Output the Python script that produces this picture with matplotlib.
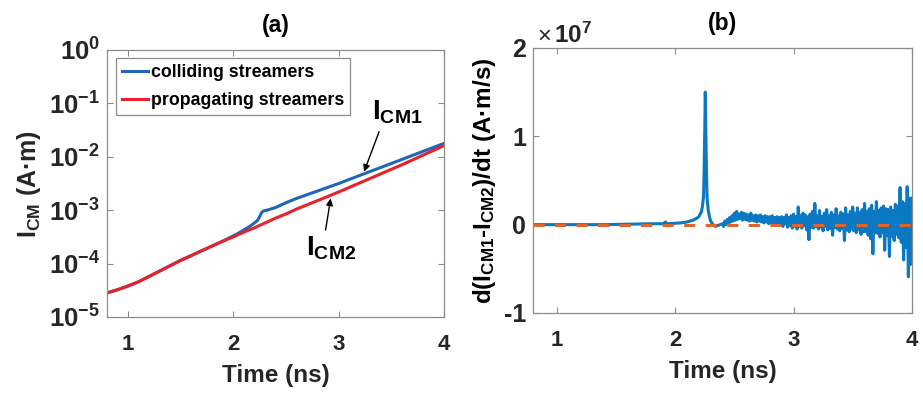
import numpy as np
import matplotlib
matplotlib.use("Agg")
import matplotlib.pyplot as plt
from matplotlib.ticker import FuncFormatter, FixedLocator, NullLocator

plt.rcParams['font.family'] = ['Liberation Sans', 'DejaVu Sans']
plt.rcParams['font.weight'] = 'bold'
plt.rcParams['axes.labelweight'] = 'bold'
plt.rcParams['axes.titleweight'] = 'bold'
plt.rcParams['mathtext.fontset'] = 'custom'
plt.rcParams['mathtext.rm'] = 'Liberation Sans:bold'
plt.rcParams['mathtext.bf'] = 'Liberation Sans:bold'
plt.rcParams['mathtext.it'] = 'Liberation Sans:bold'
plt.rcParams['axes.unicode_minus'] = False
plt.rcParams['lines.scale_dashes'] = False

# ---------------- data: panel (a) ----------------
t_prop = [0.8, 0.9, 1.0, 1.1, 1.2, 1.3, 1.4, 1.5, 1.6, 1.7, 1.8, 1.9, 2.0, 2.1,
          2.2, 2.3, 2.4, 2.5, 2.6, 2.7, 2.8, 2.9, 3.0, 3.2, 3.4, 3.6, 3.8, 4.0]
icm_prop = [2.82e-5, 3.24e-5, 3.80e-5, 4.57e-5, 5.75e-5, 7.24e-5, 9.12e-5, 1.15e-4,
            1.41e-4, 1.74e-4, 2.14e-4, 2.63e-4, 3.16e-4, 3.89e-4, 4.68e-4, 5.75e-4,
            7.08e-4, 8.51e-4, 1.05e-3, 1.26e-3, 1.51e-3, 1.82e-3, 2.19e-3, 3.24e-3,
            4.79e-3, 7.08e-3, 1.07e-2, 1.62e-2]

t_coll = [0.8, 0.9, 1.0, 1.1, 1.2, 1.3, 1.4, 1.5, 1.6, 1.7, 1.8, 1.9, 2.0, 2.05,
          2.1, 2.15, 2.2, 2.23, 2.25, 2.27, 2.29, 2.32, 2.4, 2.5, 2.6, 2.7, 2.8,
          2.9, 3.0, 3.2, 3.4, 3.6, 3.8, 4.0]
icm_coll = [2.82e-5, 3.24e-5, 3.80e-5, 4.57e-5, 5.75e-5, 7.24e-5, 9.12e-5, 1.15e-4,
            1.41e-4, 1.74e-4, 2.14e-4, 2.63e-4, 3.31e-4, 3.72e-4, 4.27e-4, 4.90e-4,
            5.75e-4, 6.46e-4, 7.59e-4, 9.12e-4, 9.77e-4, 1.00e-3, 1.12e-3, 1.38e-3,
            1.66e-3, 1.95e-3, 2.29e-3, 2.69e-3, 3.16e-3, 4.47e-3, 6.31e-3, 8.91e-3,
            1.26e-2, 1.78e-2]

# ---------------- data: panel (b) (values in units of 1e5 A·m/s) ----------------
t_early = [0.8, 1.0, 1.2, 1.4, 1.6, 1.8, 1.9, 1.92, 1.93, 1.94, 2.0, 2.05, 2.1, 2.15,
           2.18, 2.2, 2.22, 2.23, 2.24, 2.245, 2.25, 2.255, 2.26, 2.265, 2.27, 2.28,
           2.29, 2.3, 2.32, 2.34, 2.36, 2.38]
d_early = [0, 0, 0, 0, 0.5, 1, 1, 3, -1, 1, 1.5, 2, 3, 5,
           7, 9, 14, 20, 32, 60, 105, 150, 100, 60, 30, 16,
           9, 4, 0, -2, -1, 0]

t_late_start = 2.40
t_late_step = 0.01
d_late = [1, -2, 4, 0, 6, 1, 8, 3, 10, 4,
          13, 5, 15, 6, 12, 7, 14, 5, 13, 6,
          12, 5, 11, 4, 13, 5, 10, 4, 11, 3,
          10, 4, 11, 3, 9, 2, 10, 3, 9, 1,
          9, 2, 10, 1, 8, -1, 9, 2, 8, 0,
          9, -2, 8, 1, 11, -3, 8, -1, 10, -4,
          12, -2, 9, -5, 20, -2, 10, -4, 13, -1,
          11, -6, 9, -17, 12, -3, 15, -4, 24, -2,
          10, -5, 16, -3, 9, -7, 13, -2, 17, -6,
          10, -4, 14, -12, 11, -3, 18, -5, 10, -7,
          14, -4, 12, -18, 19, -6, 11, -8, 15, -5,
          20, -7, 13, -9, 19, -6, 14, -11, 17, -8,
          24, -8, 15, -12, 18, -16, 22, -33, 15, -9,
          26, -10, 16, -14, 19, -9, 21, -29, 18, -12,
          17, -36, 20, -13, 16, -18, 23, -11, 21, -15,
          42, -20, 26, -40, 24, -26, 43, -59, 30, -45,
          30]

t_late = [t_late_start + i * t_late_step for i in range(len(d_late))]
t_b = np.array(t_early + t_late)
d_b = np.array(d_early + d_late) * 1e5

# ---------------- styling ----------------
TXT = '#262626'
SPINE = '#8c8c8c'
fig = plt.figure(figsize=(9.23, 3.93), dpi=100)

ax1 = fig.add_axes([0.1159, 0.1934, 0.3651, 0.6794])
ax2 = fig.add_axes([0.5775, 0.2036, 0.4105, 0.6744])

for ax in (ax1, ax2):
    for s in ax.spines.values():
        s.set_color(SPINE)
        s.set_linewidth(0.9)
    ax.tick_params(which='both', direction='in', top=True, right=True,
                   length=4, width=0.8, color=SPINE, labelcolor=TXT,
                   labelsize=16)
    ax.tick_params(axis='x', pad=12)

# panel (a)
ax1.plot(t_coll, icm_coll, color='#1f66b8', lw=2.2, label='colliding streamers')
ax1.plot(t_prop, icm_prop, color='#e8212a', lw=2.2, label='propagating streamers')
ax1.set_yscale('log')
ax1.set_xlim(0.8, 4)
ax1.set_ylim(1e-5, 1)
ax1.xaxis.set_major_locator(FixedLocator([1, 2, 3, 4]))
ax1.yaxis.set_major_locator(FixedLocator([1e-5, 1e-4, 1e-3, 1e-2, 1e-1, 1]))
ax1.yaxis.set_minor_locator(NullLocator())
ax1.yaxis.set_major_formatter(FuncFormatter(
    lambda v, p: r'$\mathbf{10^{%d}}$' % int(round(np.log10(v)))))
ax1.xaxis.set_major_formatter(FuncFormatter(lambda v, p: '%d' % v))
ax1.tick_params(axis='y', labelsize=18.5, pad=5)
ax1.set_xlabel('Time (ns)', fontsize=17.5, color=TXT, labelpad=7)
ax1.set_ylabel(r'$\mathbf{I}_{\mathbf{CM}}$ (A·m)', fontsize=18, color=TXT, labelpad=4)
ax1.set_title('(a)', fontsize=16.5, color='black', pad=13)
leg = ax1.legend(loc='upper left', bbox_to_anchor=(0.027, 0.97), borderaxespad=0,
                 fontsize=12.8, handlelength=1.45, handletextpad=0.15,
                 labelspacing=0.6, borderpad=0.35, fancybox=False, framealpha=1)
leg.get_frame().set_edgecolor(SPINE)
leg.get_frame().set_linewidth(0.9)

ax1.annotate('', xy=(3.241, 10**-2.28), xytext=(3.384, 10**-1.53),
             arrowprops=dict(arrowstyle='-|>', color='black', lw=1.0, mutation_scale=10,
                             shrinkA=0, shrinkB=0))
ax1.annotate('', xy=(2.924, 10**-2.78), xytext=(2.876, 10**-3.37),
             arrowprops=dict(arrowstyle='-|>', color='black', lw=1.0, mutation_scale=10,
                             shrinkA=0, shrinkB=0))
ax1.text(3.32, 10**-1.31, r'$\mathbf{I}_{\mathbf{CM1}}$', fontsize=20, color='black',
         ha='left', va='baseline')
ax1.text(2.686, 10**-3.84, r'$\mathbf{I}_{\mathbf{CM2}}$', fontsize=20, color='black',
         ha='left', va='baseline')

# panel (b)
ax2.plot(t_b, d_b, color='#0a78c2', lw=2.2)
ax2.plot([0.8, 4.0], [0, 0], color='#e0652a', lw=2.2, dashes=(8, 7.5))
ax2.set_xlim(0.8, 4)
ax2.set_ylim(-1e7, 2e7)
ax2.xaxis.set_major_locator(FixedLocator([1, 2, 3, 4]))
ax2.yaxis.set_major_locator(FixedLocator([-1e7, 0, 1e7, 2e7]))
ax2.yaxis.set_major_formatter(FuncFormatter(lambda v, p: '%d' % round(v / 1e7)))
ax2.xaxis.set_major_formatter(FuncFormatter(lambda v, p: '%d' % v))
ax2.tick_params(axis='y', labelsize=18, pad=5)
ax2.set_xlabel('Time (ns)', fontsize=17.5, color=TXT, labelpad=7)
ax2.set_ylabel(r'd($\mathbf{I}_{\mathbf{CM1}}$-$\mathbf{I}_{\mathbf{CM2}}$)/dt (A·m/s)',
               fontsize=17.5, color='black', labelpad=4)
ax2.set_title('(b)', fontsize=16.5, color='black', pad=13)
fig.text(0.582, 0.8906, '×', fontsize=17, color=TXT, fontweight='normal',
         ha='left', va='baseline')
fig.text(0.6, 0.8906, r'$\mathbf{10^{7}}$', fontsize=17.5, color=TXT,
         ha='left', va='baseline')

fig.savefig('out.png', dpi=100)
